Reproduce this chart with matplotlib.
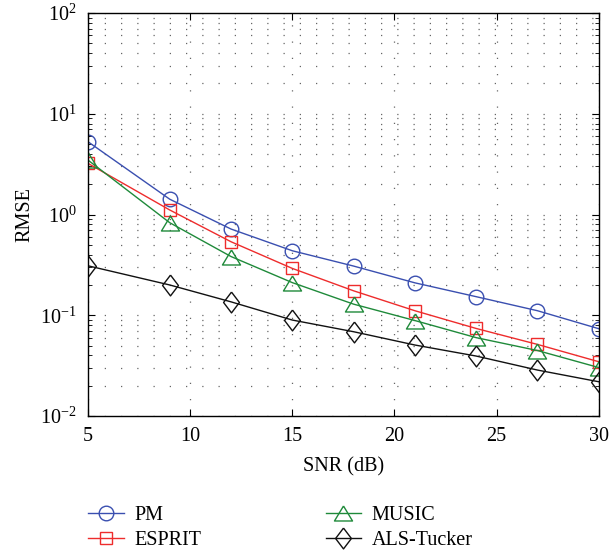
import numpy as np
import matplotlib.pyplot as plt
from matplotlib.ticker import LogLocator, NullFormatter

plt.rcParams['font.family'] = 'Liberation Serif'
plt.rcParams['mathtext.fontset'] = 'stix'

snr = [5, 9, 12, 15, 18, 21, 24, 27, 30]
pm = [5.28, 1.42, 0.718, 0.437, 0.308, 0.21, 0.153, 0.111, 0.0736]
esprit = [3.22, 1.11, 0.537, 0.292, 0.175, 0.111, 0.074, 0.0514, 0.0346]
music = [3.47, 0.83, 0.383, 0.211, 0.129, 0.0887, 0.060, 0.0447, 0.0303]
als = [0.31, 0.20, 0.136, 0.0897, 0.0687, 0.0507, 0.0394, 0.0286, 0.0219]

# matlab-like marker shapes
tri = [(0, 0.83), (1, -0.83), (-1, -0.83), (0, 0.83)]
dia = [(0, 1), (0.76, 0), (0, -1), (-0.76, 0), (0, 1)]

fig = plt.figure(figsize=(6.11, 5.54), dpi=100)
ax = fig.add_axes([0.144, 0.249, 0.836, 0.7275])

ax.semilogy(snr, pm, '-', marker='o', color='#3a4fb0', mfc='none', ms=10.5, lw=1, label='PM')
ax.semilogy(snr, esprit, '-', marker='s', color='#ee2c2c', mfc='none', ms=8.8, lw=1, label='ESPRIT')
ax.semilogy(snr, music, '-', marker=tri, color='#1f8a3a', mfc='none', ms=13, lw=1, label='MUSIC')
ax.semilogy(snr, als, '-', marker=dia, color='#111111', mfc='none', ms=15, lw=1, label='ALS-Tucker')

ax.set_xlim(5, 30)
ax.set_ylim(1e-2, 1e2)
ax.set_xticks([5, 10, 15, 20, 25, 30])
ax.yaxis.set_major_locator(LogLocator(base=10, numticks=10))
ax.yaxis.set_minor_locator(LogLocator(base=10, subs=np.arange(2, 10), numticks=10))
ax.yaxis.set_minor_formatter(NullFormatter())

ax.grid(True, which='major', axis='both', ls=(0, (1, 12)), color='#666666', lw=0.9)
ax.grid(True, which='minor', axis='y', ls=(0, (1, 12)), color='#666666', lw=0.9)

ax.tick_params(which='both', direction='in', top=True, right=True, labelsize=14.5)
ax.tick_params(which='major', length=5, pad=8)
ax.tick_params(which='minor', length=3)
for s in ax.spines.values():
    s.set_linewidth(1.0)

ax.set_xlabel('SNR (dB)', fontsize=14.5, labelpad=8)
ax.set_ylabel('RMSE', fontsize=14.5, labelpad=4)

fig.legend(loc='upper left', bbox_to_anchor=(0.115, 0.119), ncol=2, frameon=False,
           fontsize=14.5, handlelength=1.75, columnspacing=6.15, labelspacing=0.3,
           handletextpad=0.55)

fig.savefig('out.png', dpi=100)
